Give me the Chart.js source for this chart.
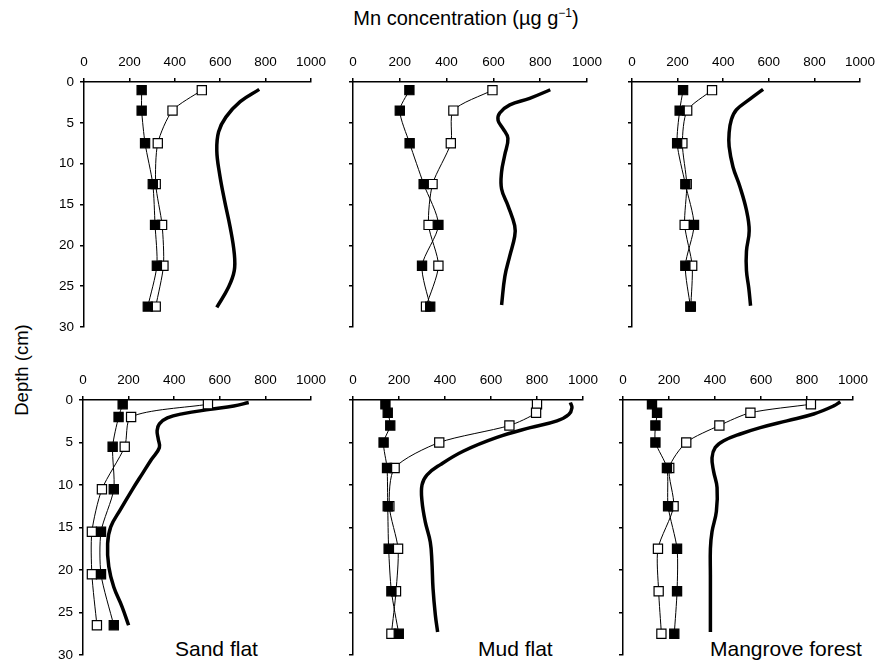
<!DOCTYPE html>
<html>
<head>
<meta charset="utf-8">
<script src="https://cdn.jsdelivr.net/npm/chart.js@4.4.0/dist/chart.umd.min.js"></script>
<style>
    body { margin: 0; background: #fff; width: 876px; height: 662px; position: relative; overflow: hidden;
           font-family: "Liberation Sans", Arial, sans-serif; color: #000; }
    canvas { position: absolute; }
    .txt { position: absolute; white-space: nowrap; }
    #title { left: 466px; top: 8px; font-size: 20px; line-height: 20px; transform: translateX(-50%); }
    #title sup { font-size: 12px; vertical-align: 8px; line-height: 0; }
    #ylabel { left: 22px; top: 370px; font-size: 18.5px; line-height: 20px; transform: translate(-50%, -50%) rotate(-90deg); }
    .site { font-size: 21px; line-height: 21px; top: 638px; }
</style>
</head>
<body>
<div class="txt" id="title">Mn concentration (µg g<sup>−1</sup>)</div>
<div class="txt" id="ylabel">Depth (cm)</div>
<div class="txt site" style="left:175px">Sand flat</div>
<div class="txt site" style="left:478px">Mud flat</div>
<div class="txt site" style="left:710px">Mangrove forest</div>
<script>
// x tick labels (Mn, µg/g) and depth tick labels (cm)
const mnTicks = [0, 200, 400, 600, 800, 1000];
const depthTicks = [0, 5, 10, 15, 20, 25, 30];

// top row: sampled depths
const depthTop = [1, 3.5, 7.5, 12.5, 17.5, 22.5, 27.5];
const sandTopFilled = [254, 254, 269, 303, 313, 321, 281];
const sandTopOpen = [519, 390, 325, 316, 344, 350, 316];
const mudTopFilled = [241, 200, 242, 302, 365, 295, 330];
const mudTopOpen = [596, 429, 418, 340, 323, 365, 312];
const mangTopFilled = [224, 209, 198, 234, 272, 234, 256];
const mangTopOpen = [351, 242, 221, 240, 231, 264, 258];

// top row: thick profiles
const sandTopCurveDepth = [0.9, 2.4, 4.3, 6.1, 8.4, 11.2, 14.5, 17.8, 21, 23.1, 25.1, 27.6];
const sandTopCurveMn = [772, 688, 625, 593, 585, 597, 619, 644, 662, 662, 637, 585];
const mudTopCurveDepth = [0.95, 2, 2.8, 3.8, 4.7, 5.7, 6.9, 9, 11, 13.1, 15.2, 17.6, 18.9, 21.3, 23.8, 27.3];
const mudTopCurveMn = [843, 755, 670, 627, 620, 641, 662, 648, 635, 635, 663, 691, 691, 670, 649, 635];
const mangTopCurveDepth = [0.9, 2.1, 3.4, 4.6, 6.2, 7.9, 10.4, 12.8, 15.7, 18.2, 20.7, 23.1, 25.2, 27.4];
const mangTopCurveMn = [575, 517, 458, 436, 426, 426, 443, 473, 502, 514, 502, 502, 512, 520];

// bottom row: sampled depths
const depthSandBottom = [0.5, 2, 5.5, 10.5, 15.5, 20.5, 26.5];
const sandBottomFilled = [174, 156, 130, 135, 79, 79, 135];
const sandBottomOpen = [548, 211, 183, 83, 39, 39, 61];
const depthBottom = [0.5, 1.5, 3, 5, 8, 12.5, 17.5, 22.5, 27.5];
const mudBottomFilled = [141, 151, 162, 133, 148, 151, 155, 167, 199];
const mudBottomOpen = [800, 796, 680, 375, 181, 158, 196, 187, 167];
const mangBottomFilled = [126, 148, 141, 141, 191, 196, 235, 235, 223];
const mangBottomOpen = [817, 554, 419, 275, 201, 220, 152, 155, 167];

// bottom row: thick profiles
const sandBottomCurveDepth = [0.3, 0.7, 1.1, 1.6, 2.1, 2.8, 3.6, 4.6, 5.6, 7, 8.6, 10.6, 12.9, 14.9, 16.9, 19.6, 22, 24.3, 26.5];
const sandBottomCurveMn = [727, 661, 558, 440, 370, 335, 325, 330, 335, 300, 262, 215, 164, 122, 108, 113, 135, 171, 200];
const mudBottomCurveDepth = [0.3, 0.9, 1.7, 2.45, 3.25, 4.4, 6, 7.6, 8.8, 10, 11.9, 14.3, 16.7, 19, 22.2, 25.3, 27.3];
const mudBottomCurveMn = [945, 952, 938, 887, 771, 626, 481, 380, 322, 300, 300, 314, 336, 343, 348, 358, 368];
const mangBottomCurveDepth = [0.2, 0.7, 1.65, 2.45, 3.25, 4, 4.8, 5.6, 6.8, 8.4, 10.3, 13.1, 15.5, 17.5, 20.6, 23.8, 27.3];
const mangBottomCurveMn = [945, 916, 829, 713, 597, 510, 438, 401, 387, 394, 409, 406, 387, 380, 380, 380, 380];

// plot areas on the page: [left, top, right, bottom]
const Y_AXIS_W = 40, X_AXIS_H = 30, PAD_R = 30, PAD_B = 14;
const tickFont = { family: "'Liberation Sans', Arial, sans-serif", size: 13.5 };

function toPoints(values, depths) {
    return values.map((v, i) => ({ x: v, y: depths[i] }));
}

function markerSet(values, depths, fill) {
    return {
        data: toPoints(values, depths),
        showLine: true,
        borderColor: "#000",
        borderWidth: 1,
        tension: 0.25,
        pointStyle: "rect",
        pointRadius: 6.5,
        pointBorderWidth: 1.2,
        pointBorderColor: "#000",
        pointBackgroundColor: fill,
        clip: false,
    };
}

function curveSet(values, depths) {
    return {
        data: toPoints(values, depths),
        showLine: true,
        borderColor: "#000",
        borderWidth: 3.5,
        tension: 0.4,
        pointRadius: 0,
        clip: false,
    };
}

function renderPanel(area, datasets, showDepthLabels) {
    const [left, top, right, bottom] = area;
    const canvas = document.createElement("canvas");
    canvas.width = right - left + Y_AXIS_W + PAD_R;
    canvas.height = bottom - top + X_AXIS_H + PAD_B;
    canvas.style.left = (left - Y_AXIS_W) + "px";
    canvas.style.top = (top - X_AXIS_H) + "px";
    document.body.appendChild(canvas);
    const context = canvas.getContext("2d");
    if (!context) {
        throw new Error("Unable to initialize chart context.");
    }
    const axisLine = { display: true, color: "#000", width: 1.5 };
    const tickMarks = { drawOnChartArea: false, drawTicks: true, tickLength: 4, color: "#000", lineWidth: 1.5 };
    return new Chart(context, {
        type: "scatter",
        data: { datasets },
        options: {
            responsive: false,
            animation: false,
            events: [],
            layout: { padding: { left: 0, top: 0, right: PAD_R, bottom: PAD_B } },
            plugins: { legend: { display: false }, tooltip: { enabled: false } },
            scales: {
                x: {
                    type: "linear",
                    position: "top",
                    min: mnTicks[0],
                    max: mnTicks[mnTicks.length - 1],
                    afterBuildTicks: (s) => { s.ticks = mnTicks.map((v) => ({ value: v })); },
                    ticks: { font: tickFont, color: "#000", padding: 8, maxRotation: 0, autoSkip: false,
                             callback: (v) => String(v) },
                    grid: tickMarks,
                    border: axisLine,
                    afterFit: (s) => { s.height = X_AXIS_H; s.paddingLeft = 0; s.paddingRight = 0; },
                },
                y: {
                    type: "linear",
                    reverse: true,
                    min: depthTicks[0],
                    max: depthTicks[depthTicks.length - 1],
                    afterBuildTicks: (s) => { s.ticks = depthTicks.map((v) => ({ value: v })); },
                    ticks: { display: showDepthLabels, font: tickFont, color: "#000", padding: 6, autoSkip: false,
                             callback: (v) => String(v) },
                    grid: tickMarks,
                    border: axisLine,
                    afterFit: (s) => { s.width = Y_AXIS_W; s.paddingTop = 0; s.paddingBottom = 0; },
                },
            },
        },
    });
}

renderPanel([84, 82, 311, 327], [
    markerSet(sandTopFilled, depthTop, "#000"),
    markerSet(sandTopOpen, depthTop, "#fff"),
    curveSet(sandTopCurveMn, sandTopCurveDepth),
], true);
renderPanel([353, 82, 587, 327], [
    markerSet(mudTopFilled, depthTop, "#000"),
    markerSet(mudTopOpen, depthTop, "#fff"),
    curveSet(mudTopCurveMn, mudTopCurveDepth),
], false);
renderPanel([632, 82, 860, 327], [
    markerSet(mangTopFilled, depthTop, "#000"),
    markerSet(mangTopOpen, depthTop, "#fff"),
    curveSet(mangTopCurveMn, mangTopCurveDepth),
], false);
renderPanel([83, 400, 311, 655], [
    markerSet(sandBottomFilled, depthSandBottom, "#000"),
    markerSet(sandBottomOpen, depthSandBottom, "#fff"),
    curveSet(sandBottomCurveMn, sandBottomCurveDepth),
], true);
renderPanel([353, 400, 583, 655], [
    markerSet(mudBottomFilled, depthBottom, "#000"),
    markerSet(mudBottomOpen, depthBottom, "#fff"),
    curveSet(mudBottomCurveMn, mudBottomCurveDepth),
], false);
renderPanel([623, 400, 853, 655], [
    markerSet(mangBottomFilled, depthBottom, "#000"),
    markerSet(mangBottomOpen, depthBottom, "#fff"),
    curveSet(mangBottomCurveMn, mangBottomCurveDepth),
], false);
</script>
</body>
</html>
